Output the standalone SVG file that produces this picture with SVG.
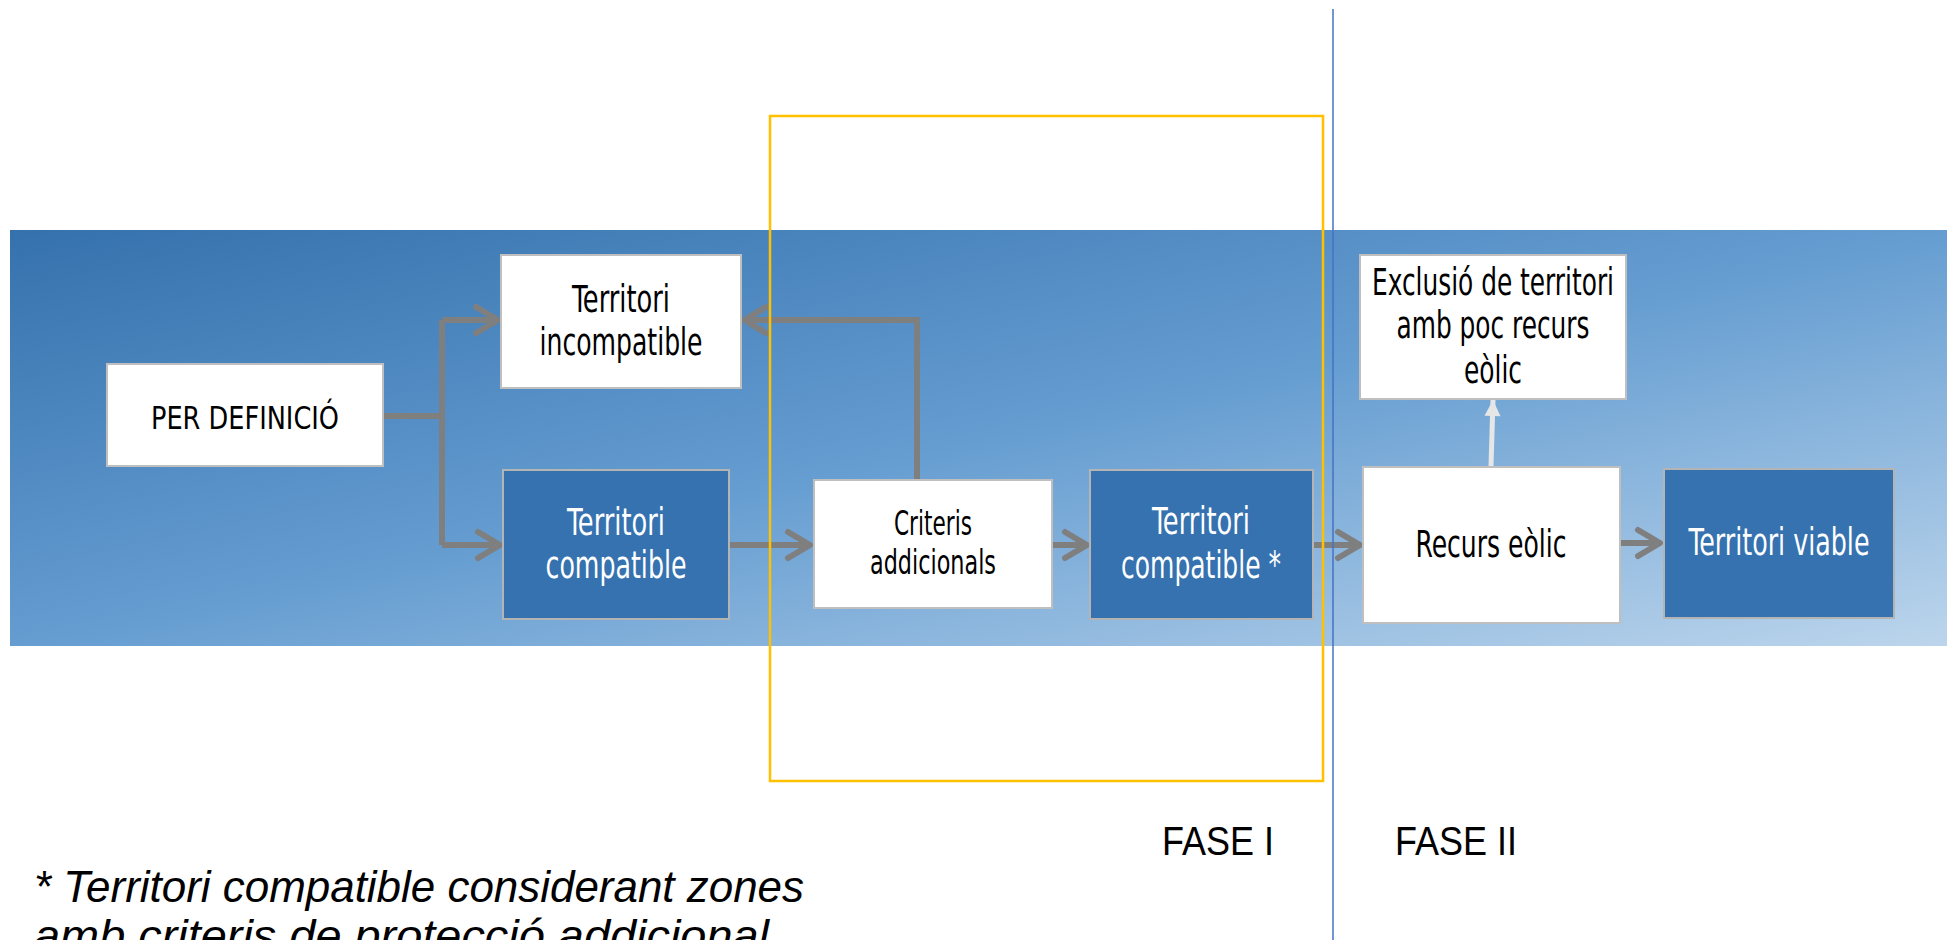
<svg xmlns="http://www.w3.org/2000/svg" width="1947" height="940" viewBox="0 0 1947 940">
<defs>
<linearGradient id="sky" x1="0" y1="0" x2="1" y2="1">
<stop offset="0" stop-color="#3571ad"/>
<stop offset="0.5" stop-color="#659dd1"/>
<stop offset="1" stop-color="#bcd5ec"/>
</linearGradient>
<marker id="chev" markerUnits="userSpaceOnUse" viewBox="-30 -18 34 36" markerWidth="34" markerHeight="36" refX="0" refY="0" orient="auto">
<path d="M-22,-13 L0,0 L-22,13" fill="none" stroke="#7f7f7f" stroke-width="6" stroke-linecap="round" stroke-linejoin="round"/>
</marker>
<marker id="tri" markerUnits="userSpaceOnUse" viewBox="-18 -10 20 20" markerWidth="20" markerHeight="20" refX="0" refY="0" orient="auto">
<path d="M-16,-8 L0,0 L-16,8 Z" fill="#e6e6e6"/>
</marker>
</defs>
<style>
.wbox{fill:#ffffff;stroke:#bfbfbf;stroke-width:2}
.dbox{fill:#3572af;stroke:#b4b4b4;stroke-width:2}
.t{font-family:"Liberation Sans Narrow","DejaVu Sans Condensed","Liberation Sans",sans-serif;font-size:37px;text-anchor:middle}
.dk{fill:#000000}
.lt{fill:#ffffff}
.con{fill:none;stroke:#7f7f7f;stroke-width:6}
.ph{font-family:"Liberation Sans",Arial,sans-serif;font-size:40px;fill:#000000}
.note{font-family:"Liberation Sans",Arial,sans-serif;font-size:45px;font-style:italic;fill:#000000}
</style>
<rect x="0" y="0" width="1947" height="940" fill="#ffffff"/>
<rect id="band" x="10" y="230" width="1937" height="416" fill="url(#sky)"/>

<g id="connectors">
<path class="con" d="M383,416 H442 M442,320 V545"/>
<path class="con" d="M442,320 H498" marker-end="url(#chev)"/>
<path class="con" d="M442,545 H500" marker-end="url(#chev)"/>
<path class="con" d="M729,545 H810" marker-end="url(#chev)"/>
<path class="con" d="M917,482 V320 H744" marker-end="url(#chev)"/>
<path class="con" d="M1031,545 H1087" marker-end="url(#chev)"/>
<path class="con" d="M1313,545 H1360" marker-end="url(#chev)"/>
<path class="con" d="M1621,543 H1660" marker-end="url(#chev)"/>
<path d="M1491,466 L1493,400" fill="none" stroke="#e6e6e6" stroke-width="5" marker-end="url(#tri)"/>
</g>

<g id="per-definicio">
<rect class="wbox" x="107" y="364" width="276" height="102"/>
<text class="t dk" x="245" y="429" style="font-size:32px" textLength="188" lengthAdjust="spacingAndGlyphs">PER DEFINICIÓ</text>
</g>
<g id="territori-incompatible">
<rect class="wbox" x="501" y="255" width="240" height="133"/>
<text class="t dk" x="621" y="312" textLength="98" lengthAdjust="spacingAndGlyphs">Territori</text>
<text class="t dk" x="621" y="355" textLength="163" lengthAdjust="spacingAndGlyphs">incompatible</text>
</g>
<g id="territori-compatible">
<rect class="dbox" x="503" y="470" width="226" height="149"/>
<text class="t lt" x="616" y="535" textLength="98" lengthAdjust="spacingAndGlyphs">Territori</text>
<text class="t lt" x="616" y="578" textLength="141" lengthAdjust="spacingAndGlyphs">compatible</text>
</g>
<g id="criteris-addicionals">
<rect class="wbox" x="814" y="480" width="238" height="128"/>
<text class="t dk" x="933" y="535" style="font-size:33px" textLength="78" lengthAdjust="spacingAndGlyphs">Criteris</text>
<text class="t dk" x="933" y="574" style="font-size:33px" textLength="126" lengthAdjust="spacingAndGlyphs">addicionals</text>
</g>
<g id="territori-compatible-2">
<rect class="dbox" x="1090" y="470" width="223" height="149"/>
<text class="t lt" x="1201" y="534" textLength="98" lengthAdjust="spacingAndGlyphs">Territori</text>
<text class="t lt" x="1201" y="578" textLength="160" lengthAdjust="spacingAndGlyphs">compatible *</text>
</g>
<g id="exclusio">
<rect class="wbox" x="1360" y="255" width="266" height="144"/>
<text class="t dk" x="1493" y="295" textLength="242" lengthAdjust="spacingAndGlyphs">Exclusió de territori</text>
<text class="t dk" x="1493" y="338" textLength="193" lengthAdjust="spacingAndGlyphs">amb poc recurs</text>
<text class="t dk" x="1493" y="383" textLength="58" lengthAdjust="spacingAndGlyphs">eòlic</text>
</g>
<g id="recurs-eolic">
<rect class="wbox" x="1363" y="467" width="257" height="156"/>
<text class="t dk" x="1491" y="557" textLength="151" lengthAdjust="spacingAndGlyphs">Recurs eòlic</text>
</g>
<g id="territori-viable">
<rect class="dbox" x="1664" y="469" width="230" height="149"/>
<text class="t lt" x="1779" y="555" textLength="181" lengthAdjust="spacingAndGlyphs">Territori viable</text>
</g>

<g id="fase-frame">
<rect x="770" y="116" width="553" height="665" fill="none" stroke="#ffc000" stroke-width="2.5"/>
<line x1="1333" y1="9" x2="1333" y2="940" stroke="#4472c4" stroke-width="1.5"/>
</g>

<text class="ph" x="1162" y="855" textLength="112" lengthAdjust="spacingAndGlyphs">FASE I</text>
<text class="ph" x="1395" y="855" textLength="122" lengthAdjust="spacingAndGlyphs">FASE II</text>
<text class="note" x="34" y="902" textLength="770" lengthAdjust="spacingAndGlyphs">* Territori compatible considerant zones</text>
<text class="note" x="34" y="951" textLength="735" lengthAdjust="spacingAndGlyphs">amb criteris de protecció addicional</text>
</svg>
